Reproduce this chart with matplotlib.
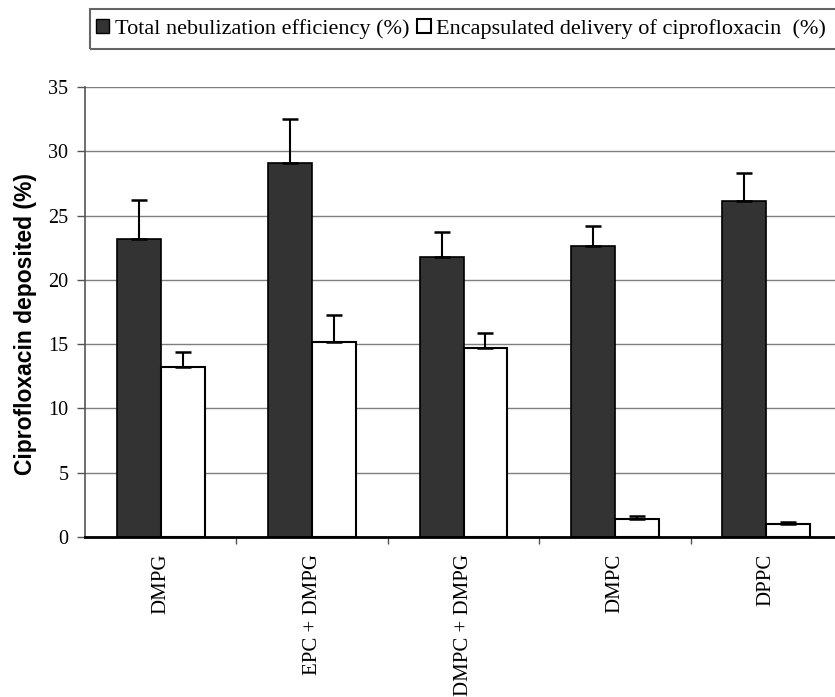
import numpy as np
import matplotlib
matplotlib.use('Agg')
import matplotlib.pyplot as plt
from matplotlib.patches import Rectangle, Patch
from matplotlib.ticker import MultipleLocator, FixedLocator

formulations = ['DMPG', 'EPC + DMPG', 'DMPC + DMPG', 'DMPC', 'DPPC']
total_neb = [23.2, 29.1, 21.8, 22.6, 26.1]
total_neb_err = [3.0, 3.4, 1.9, 1.6, 2.2]
encapsulated = [13.2, 15.2, 14.7, 1.4, 1.0]
encapsulated_err = [1.2, 2.1, 1.2, 0.25, 0.2]

serif = 'Liberation Serif'
sans = 'Liberation Sans'

fig = plt.figure(figsize=(8.35, 6.97), dpi=100)
W, H = 835, 697
ax = fig.add_axes([85 / W, 1 - 537 / H, 757 / W, 450 / H])

x = np.arange(len(formulations))
w = 0.29
off = 0.145
ax.bar(x - off, total_neb, w, color='#333333', edgecolor='black', linewidth=1.2, zorder=3)
ax.bar(x + off, encapsulated, w, color='white', edgecolor='black', linewidth=1.5, zorder=3)
ax.errorbar(x - off, total_neb, yerr=[np.zeros(len(x)), total_neb_err], fmt='none',
            ecolor='black', elinewidth=1.5, capsize=6, capthick=1.8, zorder=4)
ax.errorbar(x + off, encapsulated, yerr=[np.zeros(len(x)), encapsulated_err], fmt='none',
            ecolor='black', elinewidth=1.5, capsize=6, capthick=1.8, zorder=4)

ax.set_xlim(-0.5, len(x) - 0.5)
ax.set_ylim(0, 35)
ax.yaxis.set_major_locator(MultipleLocator(5))
ax.grid(axis='y', color='#7f7f7f', linewidth=1.0, zorder=0)

ax.set_xticks(x)
ax.set_xticklabels(formulations, rotation=90, fontfamily=serif, fontsize=15, va='top')
ax.xaxis.set_minor_locator(FixedLocator(np.arange(0.5, len(x) - 0.5, 1)))
ax.tick_params(axis='x', which='major', length=0, pad=12)
ax.tick_params(axis='x', which='minor', length=5, width=1, direction='out', color='#555555')
ax.tick_params(axis='y', length=6, width=1, direction='out', color='#555555', pad=6)
for lab in ax.get_yticklabels():
    lab.set_fontfamily(serif)
    lab.set_fontsize(14.5)

ax.set_ylabel('Ciprofloxacin deposited (%)', fontfamily=sans, fontweight='bold', fontsize=16.5)
ax.yaxis.set_label_coords(-0.063, 0.474)

for side in ('top', 'right'):
    ax.spines[side].set_visible(False)
ax.spines['left'].set_color('#555555')
ax.spines['left'].set_linewidth(1.2)
ax.spines['bottom'].set_color('black')
ax.spines['bottom'].set_linewidth(2)
ax.spines['bottom'].set_zorder(5)

# legend box across the top, running off the right edge
fig.patches.append(Rectangle((90 / W, 1 - 49 / H), 760 / W, 40 / H, transform=fig.transFigure,
                             fill=False, edgecolor='#666666', linewidth=1.5))
handles = [Patch(facecolor='#333333', edgecolor='black', linewidth=1),
           Patch(facecolor='white', edgecolor='black', linewidth=1.5)]
fig.legend(handles, ['Total nebulization efficiency (%)', 'Encapsulated delivery of ciprofloxacin  (%)'],
           loc='center left', bbox_to_anchor=(96 / W, 1 - 29 / H), ncol=2, frameon=False,
           prop={'family': serif, 'size': 16}, handlelength=0.6, handleheight=0.6,
           handletextpad=0.25, columnspacing=0.35, borderaxespad=0, borderpad=0)

fig.savefig('out.png', dpi=100)
